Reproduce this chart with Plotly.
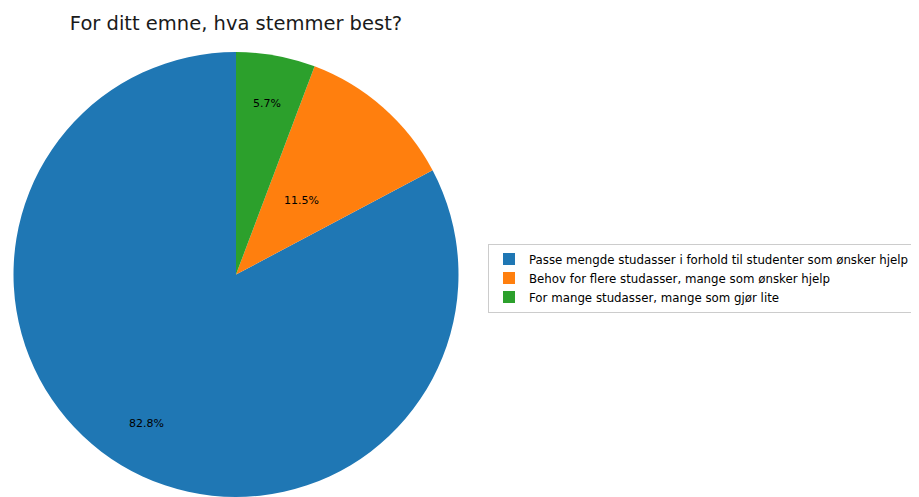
import math
import plotly.graph_objects as go

title = "For ditt emne, hva stemmer best?"
labels = [
    "Passe mengde studasser i forhold til studenter som ønsker hjelp",
    "Behov for flere studasser, mange som ønsker hjelp",
    "For mange studasser, mange som gjør lite",
]
counts = [72, 10, 5]
colors = ["#1f77b4", "#ff7f0e", "#2ca02c"]
# radial position of each percentage label, as a fraction of the radius
label_dist = [0.78, 0.445, 0.78]

# page has an 8px body margin; size the figure to fill the rest of the 919x497 view
W, H = 911, 489
T = 44
cx = 228
r = (H - T) / 2

total = sum(counts)
# matplotlib-style: first slice starts at 12 o'clock, going counterclockwise
rotation = 360 - 360 * counts[0] / total

fig = go.Figure(go.Pie(
    labels=labels,
    values=counts,
    sort=False,
    direction="counterclockwise",
    rotation=rotation,
    marker=dict(colors=colors, line=dict(width=0)),
    textinfo="none",
    domain=dict(x=[(cx - r) / W, (cx + r) / W], y=[0, 1]),
    hoverinfo="label+percent",
))

# percentage labels placed at each slice's mid-angle
annotations = []
start = 90.0
for c, f in zip(counts, label_dist):
    span = 360 * c / total
    mid = math.radians(start + span / 2)
    start += span
    annotations.append(dict(
        x=(cx + f * r * math.cos(mid)) / W,
        y=0.5 + f * r * math.sin(mid) / (H - T),
        xref="paper", yref="paper",
        text=f"{100 * c / total:.1f}%",
        showarrow=False, xanchor="center", yanchor="middle",
        font=dict(family="DejaVu Sans", size=11, color="black"),
    ))

fig.update_layout(
    width=W, height=H,
    margin=dict(l=0, r=0, t=T, b=0, autoexpand=False),
    paper_bgcolor="white",
    font=dict(family="DejaVu Sans", color="black"),
    title=dict(text=title, x=cx / W, xanchor="center", y=1 - 15 / H, yanchor="middle",
               xref="container", yref="container",
               font=dict(family="DejaVu Sans", size=19.5, color="#1a1a1a")),
    legend=dict(
        x=(488 - 8) / W, xanchor="left", y=(H - (278 - 8)) / (H - T), yanchor="middle",
        xref="paper", yref="paper",
        bordercolor="#cccccc", borderwidth=1, bgcolor="white",
        font=dict(family="DejaVu Sans", size=11.8, color="black"),
        traceorder="normal",
    ),
    annotations=annotations,
    showlegend=True,
)

fig.write_html("out.html")
